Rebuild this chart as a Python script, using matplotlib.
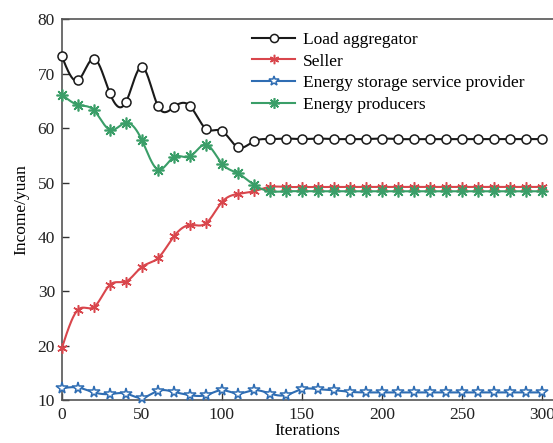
import numpy as np
import matplotlib.pyplot as plt
from matplotlib.lines import Line2D

plt.rcParams["font.family"] = ["Liberation Serif", "DejaVu Serif"]
plt.rcParams["mathtext.fontset"] = "stix"

# iterations sampled every 10 steps
iters = list(range(0, 310, 10))

load_aggregator = [73.2, 68.8, 72.8, 66.4, 64.8, 71.3, 64.1, 63.9, 64.1, 59.9,
                   59.5, 56.5, 57.6, 58.0, 58.1, 58.0, 58.1, 58.0, 58.0, 58.0,
                   58.1, 58.0, 58.0, 58.0, 58.0, 58.0, 58.0, 58.0, 58.0, 58.0, 58.0]
seller = [19.6, 26.6, 27.1, 31.2, 31.8, 34.5, 36.1, 40.1, 42.2, 42.5,
          46.4, 47.9, 48.4, 49.2, 49.2, 49.2, 49.2, 49.2, 49.2, 49.2,
          49.2, 49.2, 49.2, 49.2, 49.2, 49.2, 49.2, 49.2, 49.2, 49.2, 49.2]
storage = [12.15, 12.3, 11.4, 11.1, 11.2, 10.4, 11.7, 11.5, 10.9, 10.9,
           11.8, 11.2, 11.8, 11.2, 10.9, 12.0, 12.0, 11.8, 11.5, 11.4,
           11.4, 11.4, 11.4, 11.4, 11.4, 11.4, 11.4, 11.4, 11.4, 11.4, 11.4]
producers = [66.2, 64.3, 63.3, 59.7, 61.0, 57.8, 52.4, 54.7, 54.8, 57.0,
             53.5, 51.7, 49.6, 48.4, 48.4, 48.4, 48.4, 48.4, 48.4, 48.4,
             48.4, 48.4, 48.4, 48.4, 48.4, 48.4, 48.4, 48.4, 48.4, 48.4, 48.4]

labels = ["Load aggregator", "Seller", "Energy storage service provider", "Energy producers"]


def smooth(x, y, n=20):
    """Natural cubic spline through the points, only for drawing the line."""
    x = np.asarray(x, float)
    y = np.asarray(y, float)
    k = len(x)
    h = np.diff(x)
    A = np.zeros((k, k))
    b = np.zeros(k)
    A[0, 0] = A[-1, -1] = 1
    for i in range(1, k - 1):
        A[i, i - 1] = h[i - 1]
        A[i, i] = 2 * (h[i - 1] + h[i])
        A[i, i + 1] = h[i]
        b[i] = 6 * ((y[i + 1] - y[i]) / h[i] - (y[i] - y[i - 1]) / h[i - 1])
    m = np.linalg.solve(A, b)
    xs, ys = [], []
    for i in range(k - 1):
        t = np.linspace(x[i], x[i + 1], n, endpoint=False)
        a = x[i + 1] - t
        c = t - x[i]
        v = (m[i] * a ** 3 + m[i + 1] * c ** 3) / (6 * h[i]) \
            + (y[i] / h[i] - m[i] * h[i] / 6) * a \
            + (y[i + 1] / h[i] - m[i + 1] * h[i] / 6) * c
        xs.extend(t)
        ys.extend(v)
    xs.append(x[-1])
    ys.append(y[-1])
    return np.array(xs), np.array(ys)


styles = [
    dict(color="#1a1a1a", marker="o", ms=6.5, mfc="white", mec="#1a1a1a", mew=1.1),
    dict(color="#d9464c", marker=(6, 2, 0), ms=7.5, mfc="none", mec="#d9464c", mew=1.1),
    dict(color="#2f6db3", marker="*", ms=8.5, mfc="white", mec="#2f6db3", mew=1.1),
    dict(color="#3a9e68", marker=(8, 2, 0), ms=8.5, mfc="none", mec="#3a9e68", mew=1.2),
]

fig = plt.figure(figsize=(5.53, 4.43), dpi=100)
ax = fig.add_axes([0.112, 0.097, 0.888, 0.859])

handles = []
for ys, st, lab in zip([load_aggregator, seller, storage, producers], styles, labels):
    sx, sy = smooth(iters, ys)
    ax.plot(sx, sy, color=st["color"], lw=1.5, zorder=2)
    ax.plot(iters, ys, ls="none", marker=st["marker"], ms=st["ms"], mfc=st["mfc"],
            mec=st["mec"], mew=st["mew"], zorder=3, clip_on=False)
    handles.append(Line2D([], [], color=st["color"], lw=1.5, marker=st["marker"],
                          ms=st["ms"] * 0.9, mfc=st["mfc"], mec=st["mec"], mew=st["mew"]))

ax.set_xlim(0, 307)
ax.set_ylim(10, 80)
ax.set_xticks([0, 50, 100, 150, 200, 250, 300])
ax.set_yticks(range(10, 81, 10))
ax.tick_params(direction="in", labelsize=12.5, length=5, width=1, colors="#333333",
               labelcolor="#222222", pad=5)
for s in ["left", "bottom", "top"]:
    ax.spines[s].set_color("#555555")
    ax.spines[s].set_linewidth(1.2)
ax.spines["right"].set_visible(False)

ax.set_xlabel("Iterations", fontsize=12.5, labelpad=0)
ax.set_ylabel("Income/yuan", fontsize=12.5, labelpad=6)

ax.legend(handles, labels, loc="upper left", bbox_to_anchor=(0.362, 1.0),
          frameon=False, fontsize=12.5, handlelength=2.5, handletextpad=0.45,
          labelspacing=0.32, borderaxespad=0.3)

fig.savefig("out.png", dpi=100)
